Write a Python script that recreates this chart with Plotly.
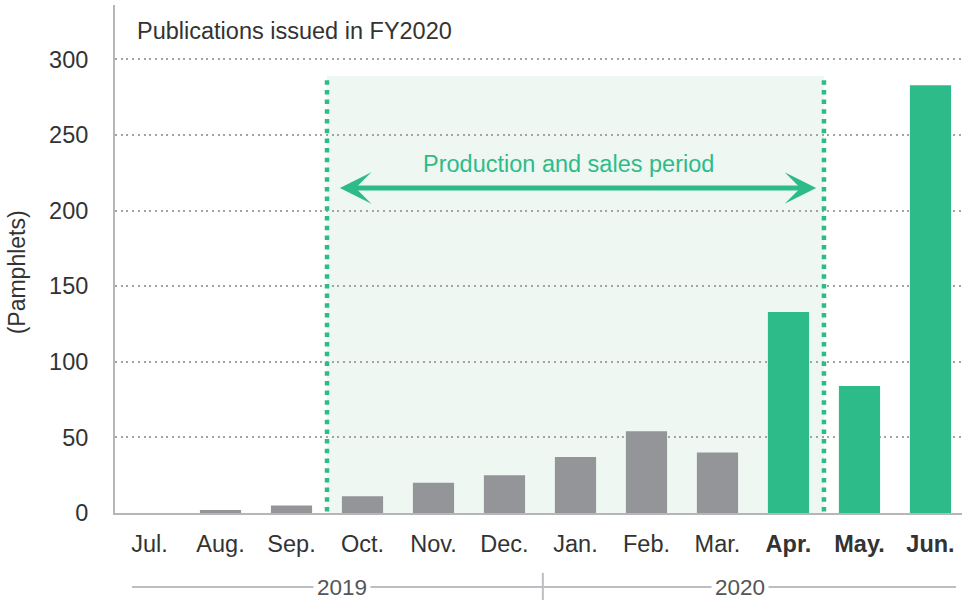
import plotly.graph_objects as go

months = ["Jul.", "Aug.", "Sep.", "Oct.", "Nov.", "Dec.", "Jan.", "Feb.", "Mar.", "Apr.", "May.", "Jun."]
pamphlets = [0, 2, 5, 11, 20, 25, 37, 54, 40, 133, 84, 283]
bold_months = ["Apr.", "May.", "Jun."]
y_ticks = [0, 50, 100, 150, 200, 250, 300]
years = ["2019", "2020"]

GRAY = "#939598"
GREEN = "#2EBB8A"
TEXT = "#333333"
FONT = "Liberation Sans, Arial, sans-serif"

bar_colors = [GREEN if m in bold_months else GRAY for m in months]
tick_text = [f"<b>{m}</b>" if m in bold_months else m for m in months]
xs = list(range(len(months)))

fig = go.Figure()

fig.add_trace(
    go.Bar(
        x=xs,
        y=pamphlets,
        width=0.58,
        marker=dict(color=bar_colors, line_width=0),
        hoverinfo="x+y",
    )
)

# production / sales period shading and dotted borders
fig.add_shape(type="rect", x0=2.5, x1=9.5, y0=0, y1=289, xref="x", yref="y",
              fillcolor="#EEF7F2", line_width=0, layer="below")
for xv in (2.5, 9.5):
    fig.add_shape(type="line", x0=xv, x1=xv, y0=1, y1=289, xref="x", yref="y",
                  line=dict(color=GREEN, width=4.5, dash="4.5px,5.2px"), layer="above")

# double-headed arrow
fig.add_annotation(
    x=9.39, y=215, ax=2.66, ay=215, xref="x", yref="y", axref="x", ayref="y",
    text="", showarrow=True, arrowside="end+start",
    arrowhead=3, startarrowhead=3, arrowsize=1.05, startarrowsize=1.05,
    arrowwidth=5, arrowcolor=GREEN,
)
fig.add_annotation(
    x=5.9, y=231, xref="x", yref="y", text="Production and sales period",
    showarrow=False, font=dict(family=FONT, size=23.5, color=GREEN),
)

# chart title
fig.add_annotation(
    x=0.0236, y=319, xref="paper", yref="y", xanchor="left", yanchor="middle",
    text="Publications issued in FY2020", showarrow=False,
    font=dict(family=FONT, size=23.5, color=TEXT),
)

# y-axis title
fig.add_annotation(
    x=-0.116, y=159, xref="paper", yref="y", xanchor="center", yanchor="middle",
    text="(Pamphlets)", textangle=-90,
    showarrow=False, font=dict(family=FONT, size=23, color=TEXT),
)

# year brackets under the axis
BR = "#BDBDC2"
fig.add_shape(type="line", x0=-0.246, x1=5.54, y0=-0.1457, y1=-0.1457, xref="x", yref="paper",
              line=dict(color=BR, width=2))
fig.add_shape(type="line", x0=5.54, x1=11.36, y0=-0.1457, y1=-0.1457, xref="x", yref="paper",
              line=dict(color=BR, width=2))
fig.add_shape(type="line", x0=5.54, x1=5.54, y0=-0.118, y1=-0.175, xref="x", yref="paper",
              line=dict(color=BR, width=2))
for label, xv in zip(years, (2.71, 8.32)):
    fig.add_annotation(
        x=xv, y=-0.1457, xref="x", yref="paper", xanchor="center", yanchor="middle",
        text=label, showarrow=False,
        bgcolor="white", borderpad=3, font=dict(family=FONT, size=22.5, color="#555555"),
    )

fig.update_layout(
    width=962,
    height=600,
    margin=dict(l=115, r=0, t=5, b=87),
    paper_bgcolor="white",
    plot_bgcolor="white",
    showlegend=False,
    font=dict(family=FONT, color=TEXT),
    xaxis=dict(
        range=[-0.486, 11.444],
        tickmode="array",
        tickvals=xs,
        ticktext=tick_text,
        tickfont=dict(size=23.5, color=TEXT),
        ticks="",
        ticklabelstandoff=9,
        showgrid=False,
        zeroline=False,
        showline=True,
        linecolor="#B5B5BA",
        linewidth=2,
        fixedrange=True,
    ),
    yaxis=dict(
        range=[0, 336],
        tickmode="array",
        tickvals=y_ticks,
        tickfont=dict(size=23.5, color=TEXT),
        ticks="",
        ticklabelstandoff=20,
        showgrid=True,
        gridcolor="#A3A3A3",
        gridwidth=1.5,
        griddash="2px,3.7px",
        zeroline=False,
        showline=True,
        linecolor="#B5B5BA",
        linewidth=2,
        fixedrange=True,
    ),
)

fig.write_html(
    "out.html",
    config={"displayModeBar": False},
    post_script="document.body.style.margin='0';",
)
